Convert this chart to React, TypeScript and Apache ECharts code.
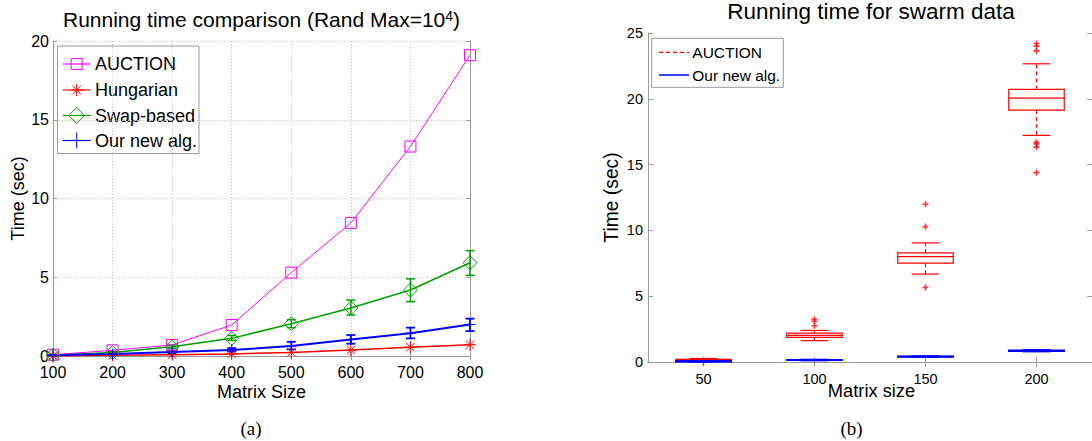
import React, { useEffect, useRef } from 'react';
import * as echarts from 'echarts';

// ---------- (a) Running time comparison ----------
const matrixSizes = [100, 200, 300, 400, 500, 600, 700, 800];
const auctionTimes = [0.08, 0.36, 0.7, 1.97, 5.29, 8.45, 13.3, 19.1];
const hungarianTimes = [0.02, 0.04, 0.08, 0.13, 0.23, 0.38, 0.56, 0.72];
const swapTimes = [0.05, 0.22, 0.59, 1.12, 2.05, 3.05, 4.19, 5.92];
const swapLow = [0.0, 0.15, 0.5, 1.0, 1.8, 2.6, 3.45, 5.12];
const swapHigh = [0.1, 0.3, 0.7, 1.3, 2.3, 3.55, 4.9, 6.69];
const newAlgTimes = [0.05, 0.12, 0.25, 0.38, 0.63, 1.05, 1.45, 2.0];
const newAlgLow = [0.02, 0.06, 0.15, 0.28, 0.42, 0.78, 1.12, 1.58];
const newAlgHigh = [0.08, 0.18, 0.35, 0.5, 0.9, 1.33, 1.8, 2.37];
const leftYTicks = [0, 5, 10, 15, 20];

// ---------- (b) Running time for swarm data ----------
const swarmSizes = ['50', '100', '150', '200'];
const auctionQ1 = [0.13, 1.87, 7.51, 19.14];
const auctionMedian = [0.17, 2.03, 8.01, 20.05];
const auctionQ3 = [0.21, 2.2, 8.29, 20.71];
const auctionWhiskerLow = [0.08, 1.62, 6.68, 17.22];
const auctionWhiskerHigh = [0.27, 2.4, 9.05, 22.66];
const auctionOutliers = [[0.0], [2.75, 3.1, 3.25], [5.66, 10.29, 11.99], [14.39, 16.33, 16.56, 16.69, 23.64, 24.0, 24.2]];
const newAlgQ1 = [0.03, 0.13, 0.39, 0.83];
const newAlgMedian = [0.05, 0.15, 0.41, 0.86];
const newAlgQ3 = [0.07, 0.17, 0.43, 0.89];
const newAlgWhiskerLow = [0.02, 0.11, 0.37, 0.79];
const newAlgWhiskerHigh = [0.09, 0.19, 0.45, 0.93];

const SANS = 'Liberation Sans, Arial, Helvetica, sans-serif';
const SERIF = 'Liberation Serif, Times New Roman, serif';
const AXIS_GRAY = '#9a9a9a';
const MAGENTA = '#ff00ff';
const RED = '#ff0000';
const GREEN = '#00a000';
const BLUE = '#0000ff';

const SQUARE = 'path://M0 0L10 0L10 10L0 10Z';
const ASTERISK = 'path://M5 0L5 10M0 5L10 5M1.5 1.5L8.5 8.5M1.5 8.5L8.5 1.5';
const DIAMOND = 'path://M5 0L10 5L5 10L0 5Z';
const PLUS = 'path://M5 0L5 10M0 5L10 5';

function errorBarRender(color: string, lw: number) {
  return (params: any, api: any) => {
    const x = api.value(0);
    const lo = api.coord([x, api.value(1)]);
    const hi = api.coord([x, api.value(2)]);
    const hw = 4.5;
    const st = { stroke: color, lineWidth: lw, fill: 'none' };
    return {
      type: 'group',
      children: [
        { type: 'line', shape: { x1: lo[0], y1: lo[1], x2: hi[0], y2: hi[1] }, style: st },
        { type: 'line', shape: { x1: lo[0] - hw, y1: lo[1], x2: lo[0] + hw, y2: lo[1] }, style: st },
        { type: 'line', shape: { x1: hi[0] - hw, y1: hi[1], x2: hi[0] + hw, y2: hi[1] }, style: st },
      ],
    };
  };
}

function boxRender(color: string, lw: number) {
  return (params: any, api: any) => {
    const i = api.value(0);
    const q1 = api.coord([i, api.value(1)]);
    const med = api.coord([i, api.value(2)]);
    const q3 = api.coord([i, api.value(3)]);
    const lo = api.coord([i, api.value(4)]);
    const hi = api.coord([i, api.value(5)]);
    const band = api.size([1, 0])[0];
    const bw = band * 0.5;
    const cw = band * 0.25;
    const cx = med[0];
    const s = { stroke: color, lineWidth: lw, fill: 'none' };
    const d = { stroke: color, lineWidth: lw, fill: 'none', lineDash: [4, 3] };
    return {
      type: 'group',
      children: [
        { type: 'line', shape: { x1: cx, y1: q3[1], x2: cx, y2: hi[1] }, style: d },
        { type: 'line', shape: { x1: cx, y1: q1[1], x2: cx, y2: lo[1] }, style: d },
        { type: 'line', shape: { x1: cx - cw / 2, y1: hi[1], x2: cx + cw / 2, y2: hi[1] }, style: s },
        { type: 'line', shape: { x1: cx - cw / 2, y1: lo[1], x2: cx + cw / 2, y2: lo[1] }, style: s },
        { type: 'rect', shape: { x: cx - bw / 2, y: q3[1], width: bw, height: Math.max(q1[1] - q3[1], 0.5) }, style: s },
        { type: 'line', shape: { x1: cx - bw / 2, y1: med[1], x2: cx + bw / 2, y2: med[1] }, style: s },
      ],
    };
  };
}

function lineSeries(name: string, values: number[], color: string, symbol: string, size: number, lw: number) {
  return {
    name,
    type: 'line',
    xAxisIndex: 0,
    yAxisIndex: 0,
    data: matrixSizes.map((x, i) => [x, values[i]]),
    symbol,
    symbolSize: size,
    showSymbol: true,
    clip: false,
    lineStyle: { color, width: lw },
    itemStyle: { color: 'rgba(0,0,0,0)', borderColor: color, borderWidth: 1 },
    emphasis: { disabled: true },
    z: 3,
  };
}

function legendLeft() {
  const x0 = 57.5, y0 = 46, w = 141.5, h = 107.5;
  const rows = [
    { name: 'AUCTION', color: MAGENTA, y: 64, m: 'square' },
    { name: 'Hungarian', color: RED, y: 90, m: 'asterisk' },
    { name: 'Swap-based', color: GREEN, y: 115.5, m: 'diamond' },
    { name: 'Our new alg.', color: BLUE, y: 140.5, m: 'plus' },
  ];
  const children: any[] = [
    { type: 'rect', shape: { x: x0, y: y0, width: w, height: h }, style: { fill: '#fff', stroke: AXIS_GRAY, lineWidth: 1 } },
  ];
  const mx = 76.7;
  rows.forEach((r) => {
    const st = { stroke: r.color, lineWidth: 1, fill: 'none' };
    children.push({ type: 'line', shape: { x1: 62.7, y1: r.y, x2: 90.7, y2: r.y }, style: { stroke: r.color, lineWidth: 1.2 } });
    if (r.m === 'square') {
      children.push({ type: 'rect', shape: { x: mx - 5.5, y: r.y - 5.5, width: 11, height: 11 }, style: st });
    } else if (r.m === 'asterisk') {
      const a = 6, b = 4.3;
      children.push({ type: 'line', shape: { x1: mx - a, y1: r.y, x2: mx + a, y2: r.y }, style: st });
      children.push({ type: 'line', shape: { x1: mx, y1: r.y - a, x2: mx, y2: r.y + a }, style: st });
      children.push({ type: 'line', shape: { x1: mx - b, y1: r.y - b, x2: mx + b, y2: r.y + b }, style: st });
      children.push({ type: 'line', shape: { x1: mx - b, y1: r.y + b, x2: mx + b, y2: r.y - b }, style: st });
    } else if (r.m === 'diamond') {
      const a = 8;
      children.push({ type: 'polygon', shape: { points: [[mx, r.y - a], [mx + a, r.y], [mx, r.y + a], [mx - a, r.y]] }, style: st });
    } else {
      const a = 8;
      children.push({ type: 'line', shape: { x1: mx, y1: r.y - a, x2: mx, y2: r.y + a }, style: st });
    }
    children.push({
      type: 'text', x: 95, y: r.y,
      style: { text: r.name, fontSize: 18, fontFamily: SANS, fill: '#000', align: 'left', verticalAlign: 'middle' },
    });
  });
  return { type: 'group', z: 100, children };
}

function legendRight() {
  const children: any[] = [
    { type: 'rect', shape: { x: 651.7, y: 38.3, width: 131.6, height: 49 }, style: { fill: '#fff', stroke: AXIS_GRAY, lineWidth: 1 } },
    { type: 'line', shape: { x1: 659, y1: 52.3, x2: 689, y2: 52.3 }, style: { stroke: RED, lineWidth: 1.2, lineDash: [4, 3] } },
    { type: 'line', shape: { x1: 659, y1: 75, x2: 689, y2: 75 }, style: { stroke: BLUE, lineWidth: 1.5 } },
    { type: 'text', x: 692.3, y: 52.3, style: { text: 'AUCTION', fontSize: 15.5, fontFamily: SANS, fill: '#000', align: 'left', verticalAlign: 'middle' } },
    { type: 'text', x: 692.3, y: 75, style: { text: 'Our new alg.', fontSize: 15.5, fontFamily: SANS, fill: '#000', align: 'left', verticalAlign: 'middle' } },
  ];
  return { type: 'group', z: 100, children };
}

export default function App() {
  const ref = useRef<HTMLDivElement>(null);
  useEffect(() => {
    if (!ref.current) return;
    const chart = echarts.init(ref.current, undefined, { renderer: 'svg' });
    const tickLabel = (size: number) => ({ color: '#000', fontSize: size, fontFamily: SANS });
    const option: any = {
      animation: false,
      backgroundColor: '#fff',
      grid: [
        { left: 53, top: 41, width: 417, height: 315 },
        { left: 648, top: 33, width: 446, height: 329 },
      ],
      xAxis: [
        {
          type: 'value', gridIndex: 0, position: 'bottom', min: 100, max: 800, interval: 100,
          axisLine: { show: true, lineStyle: { color: AXIS_GRAY } },
          axisTick: { show: true, inside: true, length: 4, lineStyle: { color: AXIS_GRAY } },
          axisLabel: { ...tickLabel(16), margin: 8 },
          splitLine: { show: true, lineStyle: { color: '#c4c4c4', type: [1, 2], width: 1 } },
        },
        {
          type: 'value', gridIndex: 0, position: 'top', min: 100, max: 800, interval: 100,
          axisLine: { show: true, lineStyle: { color: AXIS_GRAY } },
          axisTick: { show: true, inside: true, length: 4, lineStyle: { color: AXIS_GRAY } },
          axisLabel: { show: false },
          splitLine: { show: false },
        },
        {
          type: 'category', gridIndex: 1, position: 'bottom', data: swarmSizes, boundaryGap: true,
          axisLine: { show: true, lineStyle: { color: AXIS_GRAY } },
          axisTick: { show: true, inside: true, length: 5, alignWithLabel: true, lineStyle: { color: AXIS_GRAY } },
          axisLabel: { ...tickLabel(14.5), margin: 9 },
          splitLine: { show: false },
        },
        {
          type: 'category', gridIndex: 1, position: 'top', data: swarmSizes, boundaryGap: true,
          axisLine: { show: true, lineStyle: { color: AXIS_GRAY } },
          axisTick: { show: true, inside: true, length: 5, alignWithLabel: true, lineStyle: { color: AXIS_GRAY } },
          axisLabel: { show: false },
          splitLine: { show: false },
        },
      ],
      yAxis: [
        {
          type: 'value', gridIndex: 0, position: 'left', min: leftYTicks[0], max: leftYTicks[leftYTicks.length - 1], interval: 5,
          axisLine: { show: true, lineStyle: { color: AXIS_GRAY } },
          axisTick: { show: true, inside: true, length: 4, lineStyle: { color: AXIS_GRAY } },
          axisLabel: { ...tickLabel(16), margin: 4 },
          splitLine: { show: true, lineStyle: { color: '#c4c4c4', type: [1, 2], width: 1 } },
        },
        {
          type: 'value', gridIndex: 0, position: 'right', min: 0, max: 20, interval: 5,
          axisLine: { show: true, lineStyle: { color: AXIS_GRAY } },
          axisTick: { show: true, inside: true, length: 4, lineStyle: { color: AXIS_GRAY } },
          axisLabel: { show: false },
          splitLine: { show: false },
        },
        {
          type: 'value', gridIndex: 1, position: 'left', min: 0, max: 25, interval: 5,
          axisLine: { show: true, lineStyle: { color: AXIS_GRAY } },
          axisTick: { show: true, inside: true, length: 5, lineStyle: { color: AXIS_GRAY } },
          axisLabel: { ...tickLabel(14.5), margin: 5 },
          splitLine: { show: false },
        },
        {
          type: 'value', gridIndex: 1, position: 'right', min: 0, max: 25, interval: 5,
          axisLine: { show: true, lineStyle: { color: AXIS_GRAY } },
          axisTick: { show: true, inside: true, length: 5, lineStyle: { color: AXIS_GRAY } },
          axisLabel: { show: false },
          splitLine: { show: false },
        },
      ],
      series: [
        lineSeries('AUCTION', auctionTimes, MAGENTA, SQUARE, 11, 1),
        lineSeries('Hungarian', hungarianTimes, RED, ASTERISK, 12, 1.5),
        {
          name: 'Swap-based error', type: 'custom', xAxisIndex: 0, yAxisIndex: 0,
          renderItem: errorBarRender(GREEN, 1.5),
          encode: { x: 0, y: [1, 2] },
          data: matrixSizes.map((x, i) => [x, swapLow[i], swapHigh[i]]), z: 3,
        },
        lineSeries('Swap-based', swapTimes, GREEN, DIAMOND, 14, 1.5),
        {
          name: 'Our new alg. error', type: 'custom', xAxisIndex: 0, yAxisIndex: 0,
          renderItem: errorBarRender(BLUE, 1.8),
          encode: { x: 0, y: [1, 2] },
          data: matrixSizes.map((x, i) => [x, newAlgLow[i], newAlgHigh[i]]), z: 3,
        },
        lineSeries('Our new alg.', newAlgTimes, BLUE, PLUS, 11, 2),
        {
          name: 'AUCTION box', type: 'custom', xAxisIndex: 2, yAxisIndex: 2,
          renderItem: boxRender(RED, 1.2),
          encode: { x: 0, y: [1, 2, 3, 4, 5] },
          data: swarmSizes.map((_, i) => [i, auctionQ1[i], auctionMedian[i], auctionQ3[i], auctionWhiskerLow[i], auctionWhiskerHigh[i]]),
          z: 3,
        },
        {
          name: 'AUCTION outliers', type: 'scatter', xAxisIndex: 2, yAxisIndex: 2,
          symbol: PLUS, symbolSize: 6,
          itemStyle: { color: 'rgba(0,0,0,0)', borderColor: RED, borderWidth: 1.6 },
          data: auctionOutliers.flatMap((arr, i) => arr.map((v) => [i, v])),
          clip: false, z: 3,
        },
        {
          name: 'Our new alg. box', type: 'custom', xAxisIndex: 2, yAxisIndex: 2,
          renderItem: boxRender(BLUE, 1.6),
          encode: { x: 0, y: [1, 2, 3, 4, 5] },
          data: swarmSizes.map((_, i) => [i, newAlgQ1[i], newAlgMedian[i], newAlgQ3[i], newAlgWhiskerLow[i], newAlgWhiskerHigh[i]]),
          z: 4,
        },
      ],
      graphic: [
        {
          type: 'text', x: 261.5, y: 19.5, z: 50,
          style: {
            text: '{a|Running time comparison (Rand Max=10}{s|4}{a|)}',
            align: 'center', verticalAlign: 'middle', fill: '#000',
            rich: {
              a: { fontSize: 21, fontFamily: SANS, fill: '#000' },
              s: { fontSize: 14, fontFamily: SANS, fill: '#000', verticalAlign: 'top' },
            },
          },
        },
        { type: 'text', x: 871, y: 11.5, z: 50, style: { text: 'Running time for swarm data', fontSize: 22.5, fontFamily: SANS, fill: '#000', align: 'center', verticalAlign: 'middle' } },
        { type: 'text', x: 261.5, y: 392, z: 50, style: { text: 'Matrix Size', fontSize: 18, fontFamily: SANS, fill: '#000', align: 'center', verticalAlign: 'middle' } },
        { type: 'text', x: 871.5, y: 390, z: 50, style: { text: 'Matrix size', fontSize: 18.3, fontFamily: SANS, fill: '#000', align: 'center', verticalAlign: 'middle' } },
        { type: 'text', x: 18, y: 198.5, rotation: Math.PI / 2, z: 50, style: { text: 'Time (sec)', fontSize: 18, fontFamily: SANS, fill: '#000', align: 'center', verticalAlign: 'middle' } },
        { type: 'text', x: 611.7, y: 197.5, rotation: Math.PI / 2, z: 50, style: { text: 'Time (sec)', fontSize: 19.3, fontFamily: SANS, fill: '#000', align: 'center', verticalAlign: 'middle' } },
        { type: 'text', x: 251, y: 428, z: 50, style: { text: '(a)', fontSize: 19, fontFamily: SERIF, fill: '#000', align: 'center', verticalAlign: 'middle' } },
        { type: 'text', x: 851.6, y: 428, z: 50, style: { text: '(b)', fontSize: 19, fontFamily: SERIF, fill: '#000', align: 'center', verticalAlign: 'middle' } },
        legendLeft(),
        legendRight(),
      ],
    };
    chart.setOption(option);
    return () => chart.dispose();
  }, []);
  return <div ref={ref} style={{ position: 'absolute', left: 0, top: 0, width: 1092, height: 441, background: '#fff' }} />;
}
